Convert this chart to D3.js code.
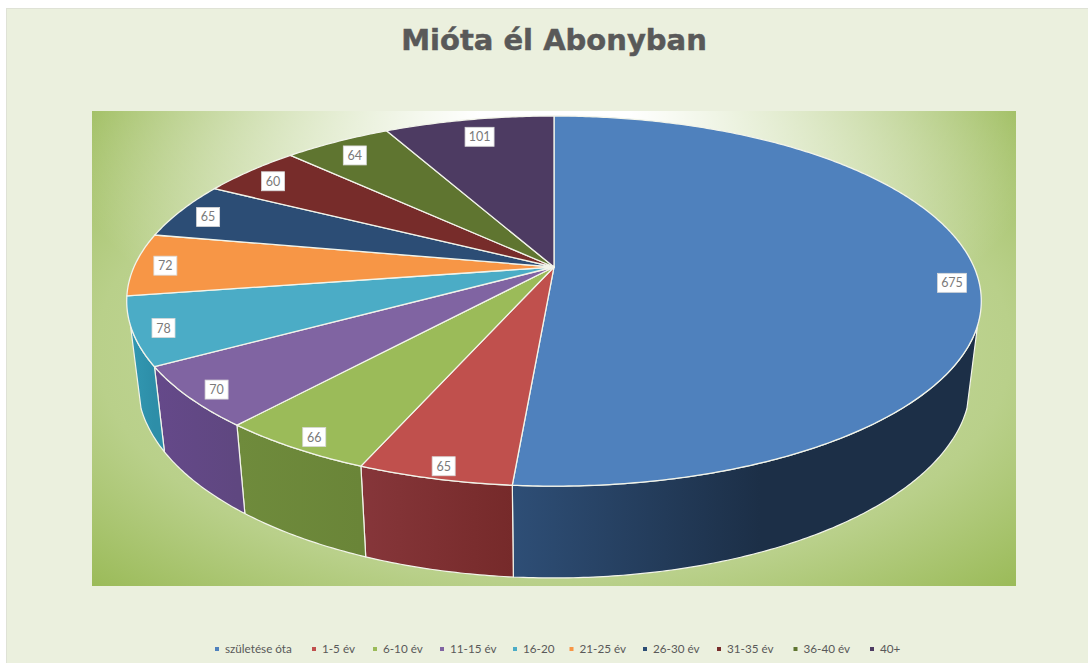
<!DOCTYPE html>
<html><head><meta charset="utf-8">
<script src="https://cdn.jsdelivr.net/npm/d3@7/dist/d3.min.js"></script>
<style>html,body{margin:0;padding:0;background:#fff;overflow:hidden}svg{display:block}</style>
</head><body><div id="c"></div>
<script>
const categories=["születése óta","1-5 év","6-10 év","11-15 év","16-20","21-25 év","26-30 év","31-35 év","36-40 év","40+"];
const values=[675,65,66,70,78,72,65,60,64,101];
const topColors=["#4f81bd","#c0504d","#9bbb59","#8064a2","#4bacc6","#f79646","#2c4d75","#772c2a","#5f7530","#4d3b62"];
const sideStart=["#2e4e76","#86363a","#6f8b3c","#65498a","#3298b2","#c87a38","#24405f","#5f2422","#4c5e27","#3e2f4f"];
const sideEnd=["#1c2f47","#762a2a","#6a8538","#5f4780","#2d8ea8","#c87a38","#24405f","#5f2422","#4c5e27","#3e2f4f"];
const legendX=[217,314,375,442,515,571.5,645,719,795.5,872];
const title="Mióta él Abonyban";

const W=1088,H=663;
const svg=d3.select("#c").append("svg").attr("width",W).attr("height",H);
const defs=svg.append("defs");

// perspective projection of the pie plane
const cx=554,k=0.184;
const topP={R:420,b:178.8,cy:267};
const botP={R:409.5,b:188.7,cy:346.7};
const rad=d=>d*Math.PI/180;
function proj(p,a,f=1){
  const u=Math.sin(a)*f,c=Math.cos(a)*f,w=1+k*c;
  return [cx+p.R*u/w,p.cy-p.b*c/w];
}
const arcs=d3.pie().sort(null).startAngle(0).endAngle(2*Math.PI)(values);
const line=d3.line();
function rim(p,a0,a1){
  const n=Math.max(2,Math.ceil((a1-a0)/0.01));
  return d3.range(n+1).map(i=>proj(p,a0+(a1-a0)*i/n));
}

// panel
svg.append("rect").attr("x",6.5).attr("y",8.5).attr("width",W-6).attr("height",H).attr("fill","#ebf0de").attr("stroke","#dfe2d6");
const bg=defs.append("radialGradient").attr("id","bg").attr("gradientUnits","userSpaceOnUse")
 .attr("cx",0).attr("cy",0).attr("r",1)
 .attr("gradientTransform","translate(554,348) scale(653,335)");
bg.append("stop").attr("offset",0).attr("stop-color","#d4e2b4");
bg.append("stop").attr("offset",0.7).attr("stop-color","#b9d08a");
bg.append("stop").attr("offset",1).attr("stop-color","#9bbb59");
const glow=defs.append("radialGradient").attr("id","glow").attr("gradientUnits","userSpaceOnUse")
 .attr("cx",0).attr("cy",0).attr("r",1)
 .attr("gradientTransform","translate(554,111) scale(500,290)");
glow.append("stop").attr("offset",0.15).attr("stop-color","#ffffff").attr("stop-opacity",1);
glow.append("stop").attr("offset",1).attr("stop-color","#ffffff").attr("stop-opacity",0);
[["url(#bg)"],["url(#glow)"]].forEach(f=>svg.append("rect").attr("x",92).attr("y",111).attr("width",924).attr("height",475).attr("fill",f[0]));

// title
svg.append("text").attr("x",554).attr("y",50).attr("text-anchor","middle")
 .attr("font-family","DejaVu Sans").attr("font-weight","700").attr("font-size",29)
 .attr("fill","#595959").attr("stroke","#595959").attr("stroke-width",0.5).text(title);

// sides (only the arc facing the viewer)
const sides=svg.append("g");
const visFrom=rad(108),visTo=rad(252);
arcs.forEach((d,i)=>{
  const a0=Math.max(d.startAngle,visFrom),a1=Math.min(d.endAngle,visTo);
  if(a1<=a0) return;
  const t=rim(topP,a0,a1),b=rim(botP,a0,a1).reverse();
  const xs=t.map(q=>q[0]);
  const g=defs.append("linearGradient").attr("id","s"+i).attr("gradientUnits","userSpaceOnUse")
    .attr("x1",i==0?513:d3.min(xs)).attr("x2",i==0?760:d3.max(xs)).attr("y1",0).attr("y2",0);
  g.append("stop").attr("offset",0).attr("stop-color",sideStart[i]);
  g.append("stop").attr("offset",1).attr("stop-color",sideEnd[i]);
  sides.append("path").attr("d",line(t.concat(b))+"Z").attr("fill",`url(#s${i})`)
    .attr("stroke","#f2f4ea").attr("stroke-width",1.2).attr("stroke-linejoin","round");
});

// top face
const tops=svg.append("g");
arcs.forEach((d,i)=>{
  const pts=[[cx,topP.cy]].concat(rim(topP,d.startAngle,d.endAngle));
  tops.append("path").attr("d",line(pts)+"Z").attr("fill",topColors[i])
    .attr("stroke","#f2f4ea").attr("stroke-width",1.3).attr("stroke-linejoin","round");
});

// data labels
const labels=svg.append("g");
arcs.forEach((d,i)=>{
  const m=(d.startAngle+d.endAngle)/2;
  const [x0,y0]=proj(topP,m,0.935);
  const x=x0+3+3*Math.cos(m),y=y0+5+4*Math.sin(m)+5*Math.max(Math.cos(m),0);
  const s=String(d.value);
  const bw=s.length>2?29:23,bh=19;
  labels.append("rect").attr("x",x-bw/2).attr("y",y-bh/2).attr("width",bw).attr("height",bh)
    .attr("fill","#fff").attr("stroke","#d8d8d8").attr("stroke-width",0.8);
  labels.append("text").attr("x",x).attr("y",y+4.5).attr("text-anchor","middle")
    .attr("font-family","Lato").attr("font-size",12.5).attr("fill","#7a7a7a").text(s);
});

// legend
const lg=svg.append("g");
categories.forEach((c,i)=>{
  lg.append("rect").attr("x",legendX[i]-2).attr("y",647).attr("width",4).attr("height",4).attr("fill",topColors[i]);
  lg.append("text").attr("x",legendX[i]+8).attr("y",653).attr("font-family","Lato").attr("font-size",11.7)
    .attr("fill","#595959").text(c);
});
</script></body></html>
